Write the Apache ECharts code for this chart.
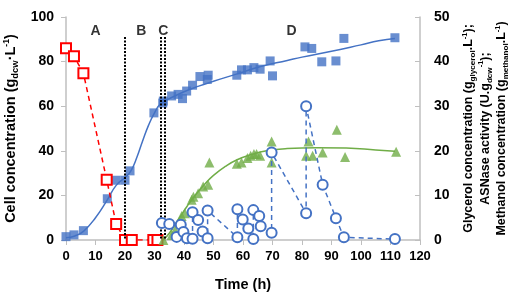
<!DOCTYPE html>
<html>
<head>
<meta charset="utf-8">
<script src="https://cdn.jsdelivr.net/npm/echarts@6/dist/echarts.min.js"></script>
<style>
  html, body { margin: 0; padding: 0; background: #fff; }
  #chart { width: 510px; height: 301px; }
</style>
</head>
<body>
<div id="chart"></div>
<script>
// cell concentration (left axis), blue filled squares
var cellPts = [[0,1.5],[2.7,2.3],[5.9,4.2],[14,18.5],[17,26.8],[20,26.8],[21.7,31],[29.8,57],[32.8,61.4],
    [33,62.3],[35.8,64.6],[38,65.3],[39.5,63.4],[40.9,66.8],[42.9,69.4],[45.4,73.3],[47.9,72],[48.2,73.9],
    [57.9,73.9],[59.5,76.3],[61.5,76.3],[63.7,77.3],[65.8,76.6],[69.2,80.3],[70,73.6],
    [81,86.6],[83.3,85.9],[86.7,79.9],[91.5,80.3],[94.2,90.4],[111.5,90.7]];
// fitted curve for cell concentration
var cellFit = [[0,1],[3,1.8],[6,4],[10,10],[14,18],[17,24.5],[20,28],[22,31],[24,37],[26,44.5],[28,51.5],
    [30,57],[32,61],[36,64],[40,66.5],[45,69],[50,71.2],[58,74.5],[66,77.8],[75,80.5],[80,82],
    [90,84.6],[100,87.5],[106,89.3],[111.5,90.4]];
// glycerol (right axis), red hollow squares
var glycerolPts = [[0,43],[2.7,41.2],[5.9,37.4],[13.8,13.5],[17,3.6],[20,0],[22.3,0],[29.6,0],[31,0]];
// ASNase activity (right axis), green triangles
var asnasePts = [[33,0],[35.8,1.1],[37,2.2],[39.2,5.4],[40.3,6],[42.6,9],[43.2,9.7],[44.8,10.5],[46.5,12],
    [48.2,12.4],[48.6,17.4],[57.9,17.1],[59.5,17.4],[61.5,18.4],[62.6,18.9],[63.7,19.3],[64.6,19.3],
    [65.8,18.9],[69.7,22.1],[69.7,17.4],[81.4,18.9],[82.2,22.1],[83.6,18.9],[87,19.6],[91.8,24.7],
    [94.6,18.6],[111.9,19.8]];
var asnaseFit = [[33,0],[35,1.5],[38,4.5],[41,7.5],[44,10.2],[47,12.5],[50,14.5],[54,16.5],[58,18],
    [63,19.2],[68,20],[75,20.5],[85,20.7],[95,20.6],[105,20.2],[111.5,19.9]];
// methanol (right axis), blue hollow circles, dashed
var methanolPts = [[32.5,3.8],[35,3.6],[37.5,0.7],[38.9,3.4],[39.8,1.8],[41,0.4],[42.9,0.3],[42.9,6.2],
    [44.8,4.5],[46.3,1.9],[48,0.4],[48,6.6],[58.1,0.6],[58.1,6.9],[59.9,4.6],[61.8,2.6],[63.5,0.2],
    [63.5,6.7],[65.5,5.4],[66,3.1],[69.7,1.6],[69.7,19.6],[81.4,6],[81.4,30],[87,12.4],[91.5,4.9],
    [94.2,0.6],[111.5,0.2]];
// phase boundaries and phase labels
var phaseLines = [20, 32, 33.5];
var phaseNames = ['A', 'B', 'C', 'D'];
var phasePos = [[10,93.5],[25.5,93.5],[33,93.5],[76.5,93.5]];

var FONT = 'Liberation Sans, Arial, sans-serif';
var axisGray = '#bfbfbf';

function richSet(size, lh) {
    return {
        b: { fontSize: size, fontWeight: 'bold', fontFamily: FONT, color: '#000', lineHeight: lh },
        s: { fontSize: size * 0.65, fontWeight: 'bold', fontFamily: FONT, color: '#000', lineHeight: lh, verticalAlign: 'bottom' },
        p: { fontSize: size * 0.6, fontWeight: 'bold', fontFamily: FONT, color: '#000', lineHeight: lh, verticalAlign: 'top' }
    };
}

var chart = echarts.init(document.getElementById('chart'));

var markLineData = [];
for (var i = 0; i < phaseLines.length; i++) {
    markLineData.push([{ coord: [phaseLines[i], 91] }, { coord: [phaseLines[i], 0] }]);
}

var option = {
    animation: false,
    backgroundColor: '#fff',
    textStyle: { fontFamily: FONT },
    grid: { left: 66, right: 90, top: 17, bottom: 61, outerBoundsMode: 'none', containLabel: false },
    xAxis: {
        type: 'value', min: 0, max: 120, interval: 10,
        name: 'Time (h)', nameLocation: 'middle', nameGap: 37,
        nameTextStyle: { fontSize: 14.5, fontWeight: 'bold', color: '#000', fontFamily: FONT },
        axisLine: { lineStyle: { color: axisGray, width: 1.5 } },
        axisTick: { lineStyle: { color: axisGray }, length: 5 },
        axisLabel: { fontSize: 13, fontWeight: 'bold', color: '#000', margin: 10 },
        splitLine: { show: false }
    },
    yAxis: [{
        type: 'value', min: 0, max: 100, interval: 20,
        name: '{b|Cell concentration (g}{s|dcw}{b|·L}{p|-1}{b|)}',
        nameLocation: 'middle', nameGap: 45, nameRotate: 90,
        nameTextStyle: { rich: richSet(14.5, 18) },
        axisLine: { show: true, lineStyle: { color: axisGray, width: 1.5 } },
        axisTick: { show: true, lineStyle: { color: axisGray }, length: 5 },
        axisLabel: { fontSize: 14, fontWeight: 'bold', color: '#000', margin: 12 },
        splitLine: { show: false }
    }, {
        type: 'value', min: 0, max: 50, interval: 10, position: 'right',
        name: '{b|Glycerol concentration (g}{s|glycerol}{b|.L}{p|-1}{b|);}\n' +
              '{b|ASNase activity (U.g}{s|dcw}{p|-1}{b|);}\n' +
              '{b|Methanol concentration (g}{s|methanol}{b|.L}{p|-1}{b|)}',
        nameLocation: 'middle', nameGap: 25, nameRotate: 90,
        nameTextStyle: { align: 'center', rich: richSet(12.5, 16.5) },
        axisLine: { show: true, lineStyle: { color: axisGray, width: 1.5 } },
        axisTick: { show: true, inside: true, lineStyle: { color: axisGray }, length: 5 },
        axisLabel: { fontSize: 14, fontWeight: 'bold', color: '#000', margin: 14 },
        splitLine: { show: false }
    }],
    series: [{
        name: 'cellFit', type: 'line', data: cellFit, smooth: true, showSymbol: false,
        lineStyle: { color: '#4472C4', width: 1.5 }, z: 2
    }, {
        name: 'cell', type: 'scatter', data: cellPts, symbol: 'rect', symbolSize: 9,
        itemStyle: { color: '#4472C4' }, z: 3
    }, {
        name: 'asnaseFit', type: 'line', yAxisIndex: 1, data: asnaseFit, smooth: true, showSymbol: false,
        lineStyle: { color: '#70AD47', width: 1.5 }, z: 2
    }, {
        name: 'glycerol', type: 'line', yAxisIndex: 1, data: glycerolPts,
        symbol: 'emptyRect', symbolSize: 10,
        lineStyle: { color: '#FF0000', width: 1.5, type: [5, 4] },
        itemStyle: { color: '#FF0000', borderWidth: 1.5 }, z: 4
    }, {
        name: 'asnase', type: 'scatter', yAxisIndex: 1, data: asnasePts,
        symbol: 'triangle', symbolSize: 10,
        itemStyle: { color: '#70AD47' }, z: 4
    }, {
        name: 'methanol', type: 'line', yAxisIndex: 1, data: methanolPts,
        symbol: 'emptyCircle', symbolSize: 10,
        lineStyle: { color: '#4472C4', width: 1.5, type: [5, 4] },
        itemStyle: { color: '#4472C4', borderWidth: 1.3 }, z: 5
    }, {
        name: 'phases', type: 'scatter', symbolSize: 1, silent: true,
        data: phaseNames.map(function (n, i) { return { name: n, value: phasePos[i] }; }),
        itemStyle: { color: 'rgba(0,0,0,0)' },
        label: { show: true, position: 'inside', formatter: '{b}', fontSize: 14, fontWeight: 'bold', color: '#000' },
        markLine: {
            silent: true, symbol: 'none', label: { show: false },
            lineStyle: { color: '#000', width: 2, type: [2, 1.5] },
            data: markLineData
        }, z: 6
    }]
};

chart.setOption(option);
</script>
</body>
</html>
